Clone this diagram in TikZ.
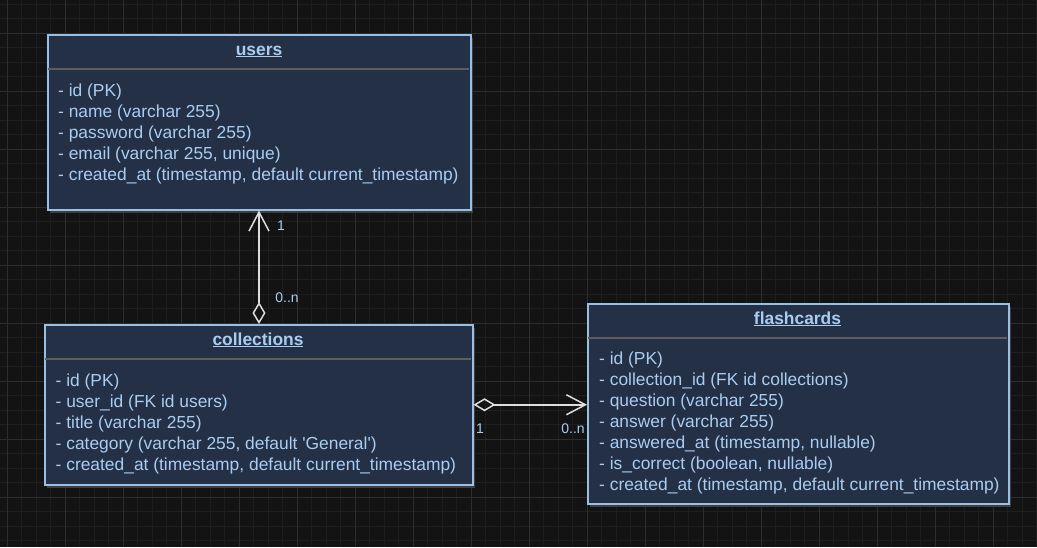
\documentclass[tikz,border=0pt]{standalone}
\usepackage{fontspec}
\setmainfont{Liberation Sans}[Ligatures=TeXOff]
\usetikzlibrary{arrows.meta}
\definecolor{canvas}{HTML}{131313}
\definecolor{gridminor}{HTML}{1E1E1E}
\definecolor{gridmajor}{HTML}{2D2D2D}
\definecolor{boxfill}{HTML}{243046}
\definecolor{boxline}{HTML}{9ABFE4}
\definecolor{boxtext}{HTML}{A9CDF1}
\definecolor{sepline}{HTML}{5E5E5E}
\definecolor{shade}{HTML}{3E3E3E}
\definecolor{wire}{HTML}{DEDEDE}
\tikzset{
  table/.style={rectangle, draw=boxline, fill=boxfill, line width=1.5pt,
    inner sep=0pt, anchor=north west},
  tshadow/.style={fill=shade},
  headrule/.style={draw=sepline, line width=2pt},
  title/.style={anchor=base, inner sep=0pt, text=boxtext,
    font=\fontsize{17.4}{21}\selectfont\bfseries},
  rowtext/.style={anchor=base west, inner sep=0pt, text=boxtext,
    font=\fontsize{17.4}{21}\selectfont},
  mult/.style={inner sep=1pt, text=boxtext, font=\fontsize{14}{16}\selectfont},
  conn/.style={draw=wire, line width=1.5pt},
}
\begin{document}
\begin{tikzpicture}[x=1pt,y=-1pt]
  % canvas and grid
  \fill[canvas] (0,0) rectangle (1037,547);
  \useasboundingbox (0,0) rectangle (1037,547);
  \foreach \k in {0,...,72} {
    \draw[gridminor, line width=0.8pt] ({7.3+14.5*\k},0) -- ({7.3+14.5*\k},547);
  }
  \foreach \k in {0,...,38} {
    \draw[gridminor, line width=0.8pt] (0,{4.3+14.5*\k}) -- (1037,{4.3+14.5*\k});
  }
  \foreach \k in {0,...,18} {
    \draw[gridmajor, line width=0.8pt] ({7.3+58*\k},0) -- ({7.3+58*\k},547);
  }
  \foreach \k in {0,...,9} {
    \draw[gridmajor, line width=0.8pt] (0,{33.3+58*\k}) -- (1037,{33.3+58*\k});
  }

  % users
  \fill[tshadow] (50,38) rectangle (473,213);
  \node[table, minimum width=423pt, minimum height=175pt] (users) at (47,34) {};
  \draw[headrule] (47.75,69) -- (469.25,69);
  \node[title] (usersT) at (259,55) {\underline{users}};
  \foreach \t [count=\i] in {{- id (PK)},{- name (varchar 255)},{- password (varchar 255)},
      {- email (varchar 255, unique)},{- created\_at (timestamp, default current\_timestamp)}} {
    \node[rowtext] (u\i) at (58,{96+21*(\i-1)}) {\t};
  }

  % collections
  \fill[tshadow] (47,328) rectangle (475,488);
  \node[table, minimum width=428pt, minimum height=160pt] (coll) at (44,324) {};
  \draw[headrule] (44.75,359) -- (471.25,359);
  \node[title] (collT) at (258,345) {\underline{collections}};
  \foreach \t [count=\i] in {{- id (PK)},{- user\_id (FK id users)},{- title (varchar 255)},
      {- category (varchar 255, default 'General')},{- created\_at (timestamp, default current\_timestamp)}} {
    \node[rowtext] (c\i) at (55.5,{386+21*(\i-1)}) {\t};
  }

  % flashcards
  \fill[tshadow] (590,307) rectangle (1011,507);
  \node[table, minimum width=421pt, minimum height=200pt] (fc) at (587,303) {};
  \draw[headrule] (587.75,338) -- (1007.25,338);
  \node[title] (fcT) at (797.5,324) {\underline{flashcards}};
  \foreach \t [count=\i] in {{- id (PK)},{- collection\_id (FK id collections)},{- question (varchar 255)},
      {- answer (varchar 255)},{- answered\_at (timestamp, nullable)},{- is\_correct (boolean, nullable)},
      {- created\_at (timestamp, default current\_timestamp)}} {
    \node[rowtext] (f\i) at (599,{364.3+21*(\i-1)}) {\t};
  }

  % relations
  \draw[conn, {Diamond[open, length=22pt, width=13pt]}-{Straight Barb[length=19pt, width=20pt]}]
    (coll.north -| 259,0) -- (users.south -| 259,0);
  \draw[conn, {Diamond[open, length=22pt, width=13pt]}-{Straight Barb[length=19pt, width=20pt]}]
    (coll.east) -- (coll.east -| fc.west);

  % multiplicities
  \node[mult] (m1) at (281,226) {1};
  \node[mult] (m2) at (287,298) {0..n};
  \node[mult] (m3) at (480,429) {1};
  \node[mult] (m4) at (573,429) {0..n};
\end{tikzpicture}
\end{document}
